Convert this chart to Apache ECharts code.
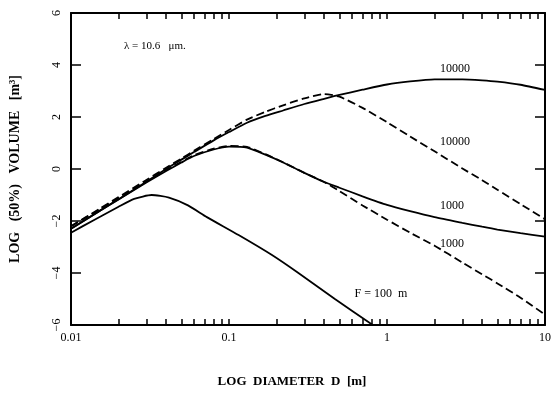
<!DOCTYPE html>
<html><head><meta charset="utf-8">
<script src="https://cdn.jsdelivr.net/npm/echarts@6/dist/echarts.min.js"></script>
<style>html,body{margin:0;padding:0;background:#fff}#c{width:554px;height:394px}</style>
</head><body><div id="c"></div>
<script>
// Diameter grid [m]
const diameters = [0.01, 0.015, 0.02, 0.03, 0.04, 0.05, 0.06, 0.08, 0.1, 0.13, 0.17, 0.22, 0.3, 0.4, 0.5, 0.7, 1, 1.4, 2, 3, 4, 5, 7, 10];
// LOG (50%) VOLUME values
const solid10000  = [-2.3, -1.63, -1.16, -0.49, 0.0, 0.36, 0.65, 1.1, 1.42, 1.78, 2.04, 2.25, 2.5, 2.7, 2.85, 3.05, 3.25, 3.37, 3.45, 3.45, 3.41, 3.36, 3.24, 3.04];
const dashed10000 = [-2.2, -1.55, -1.08, -0.42, 0.05, 0.4, 0.7, 1.15, 1.5, 1.9, 2.2, 2.45, 2.72, 2.88, 2.78, 2.35, 1.8, 1.25, 0.68, 0.02, -0.43, -0.8, -1.35, -1.93];
const solid1000   = [-2.3, -1.63, -1.17, -0.52, -0.08, 0.25, 0.5, 0.75, 0.86, 0.82, 0.55, 0.25, -0.15, -0.5, -0.72, -1.05, -1.38, -1.62, -1.85, -2.07, -2.22, -2.33, -2.47, -2.6];
const dashed1000  = [-2.2, -1.58, -1.12, -0.48, -0.05, 0.28, 0.53, 0.78, 0.89, 0.85, 0.57, 0.26, -0.15, -0.5, -0.85, -1.4, -1.95, -2.45, -2.95, -3.6, -4.05, -4.4, -4.95, -5.6];
// F = 100 m curve
const diameters100 = [0.01, 0.0141, 0.02, 0.0251, 0.0324, 0.0417, 0.055, 0.0724, 0.115, 0.186, 0.275, 0.468, 0.813];
const f100 = [-2.45, -1.95, -1.45, -1.15, -1.0, -1.1, -1.4, -1.85, -2.54, -3.3, -4.0, -5.0, -6.0];

const xLabelValues = [0.01, 0.1, 1, 10];
const xTickValues = [0.01,0.02,0.03,0.04,0.05,0.06,0.07,0.08,0.09,0.1,0.2,0.3,0.4,0.5,0.6,0.7,0.8,0.9,1,2,3,4,5,6,7,8,9,10];

const serif = '"Liberation Serif", "DejaVu Serif", serif';
const pairs = (xs, ys) => xs.map((x, i) => [x, ys[i]]);

const chart = echarts.init(document.getElementById('c'), null, {renderer: 'canvas'});

const lineW = 1.8;
function mk(name, xs, ys, dashed) {
  return {
    name, type: 'line', data: pairs(xs, ys), smooth: 0.2, showSymbol: false,
    xAxisIndex: 0, yAxisIndex: 0, clip: true,
    lineStyle: {color: '#000', width: lineW, type: dashed ? [8, 4] : 'solid'}
  };
}

const xAxisBase = {
  type: 'log', min: 0.01, max: 10, logBase: 10,
  axisLine: {show: true, onZero: false, lineStyle: {color: '#000', width: 2}},
  splitLine: {show: false},
  minorTick: {show: false}
};
const yAxisBase = {
  type: 'value', min: -6, max: 6, interval: 2,
  axisLine: {show: true, onZero: false, lineStyle: {color: '#000', width: 2}},
  splitLine: {show: false}
};

chart.setOption({
  animation: false,
  backgroundColor: '#fff',
  grid: {left: 70, right: 4, top: 13, bottom: 69},
  xAxis: [
    Object.assign({}, xAxisBase, {
      position: 'bottom',
      axisTick: {show: true, inside: true, length: 6, customValues: xTickValues, lineStyle: {color: '#000', width: 1.5}},
      axisLabel: {show: true, customValues: xLabelValues, color: '#000', fontFamily: serif, fontSize: 12, margin: 7,
        formatter: v => String(Number(Number(v).toPrecision(3)))}
    }),
    Object.assign({}, xAxisBase, {
      position: 'top',
      axisTick: {show: true, inside: true, length: 6, customValues: xTickValues, lineStyle: {color: '#000', width: 1.5}},
      axisLabel: {show: false}
    })
  ],
  yAxis: [
    Object.assign({}, yAxisBase, {
      position: 'left',
      axisTick: {show: true, inside: true, length: 10, lineStyle: {color: '#000', width: 1.5}},
      axisLabel: {show: true, rotate: 90, color: '#000', fontFamily: serif, fontSize: 12, margin: 8,
        formatter: v => (v < 0 ? '\u2212' + Math.abs(v) : String(v))},
      name: 'LOG   (50%)   VOLUME   [m\u00B3]', nameLocation: 'middle', nameGap: 49, nameRotate: 90,
      nameTextStyle: {color: '#000', fontFamily: serif, fontSize: 14, fontWeight: 'bold'}
    }),
    Object.assign({}, yAxisBase, {
      position: 'right',
      axisTick: {show: true, inside: true, length: 10, lineStyle: {color: '#000', width: 1.5}},
      axisLabel: {show: false}
    })
  ],
  series: [
    mk('10000 solid', diameters, solid10000, false),
    mk('10000 dashed', diameters, dashed10000, true),
    mk('1000 solid', diameters, solid1000, false),
    mk('1000 dashed', diameters, dashed1000, true),
    mk('F = 100 m', diameters100, f100, false)
  ],
  graphic: [
    {type: 'text', x: 292, y: 382, style: {text: 'LOG  DIAMETER  D  [m]', fill: '#000', font: 'bold 13px ' + serif, textAlign: 'center', textVerticalAlign: 'middle'}},
    {type: 'text', x: 124, y: 46, style: {text: '\u03BB = 10.6   \u03BCm.', fill: '#000', font: '11px ' + serif, textAlign: 'left', textVerticalAlign: 'middle'}},
    {type: 'text', x: 455, y: 69, style: {text: '10000', fill: '#000', font: '12px ' + serif, textAlign: 'center', textVerticalAlign: 'middle'}},
    {type: 'text', x: 455, y: 142, style: {text: '10000', fill: '#000', font: '12px ' + serif, textAlign: 'center', textVerticalAlign: 'middle'}},
    {type: 'text', x: 452, y: 206, style: {text: '1000', fill: '#000', font: '12px ' + serif, textAlign: 'center', textVerticalAlign: 'middle'}},
    {type: 'text', x: 452, y: 244, style: {text: '1000', fill: '#000', font: '12px ' + serif, textAlign: 'center', textVerticalAlign: 'middle'}},
    {type: 'text', x: 381, y: 294, style: {text: 'F = 100  m', fill: '#000', font: '12px ' + serif, textAlign: 'center', textVerticalAlign: 'middle'}}
  ]
});
</script>
</body></html>
